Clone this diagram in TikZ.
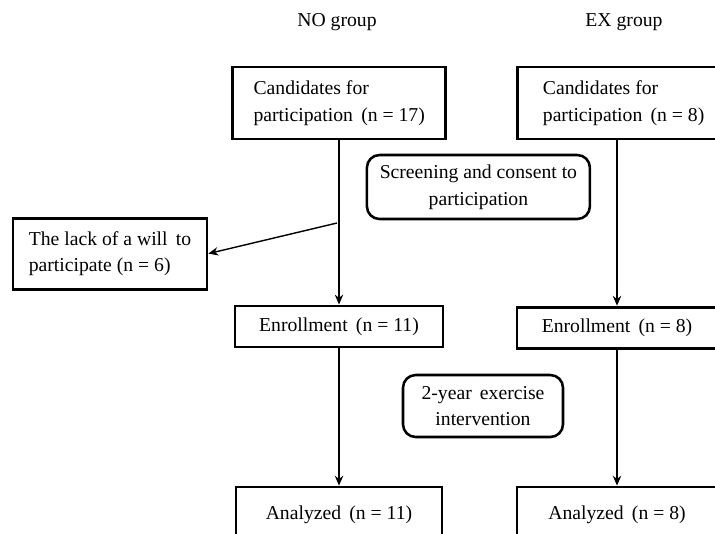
\documentclass[tikz,border=0pt]{standalone}
\usepackage{fontspec}
\setmainfont{Liberation Serif}
\usetikzlibrary{arrows.meta}

\begin{document}
\begin{tikzpicture}
		\useasboundingbox (0,0) rectangle (17.875,-13.325);
		\tikzstyle{every node}+=[font=\fontsize{14}{19}\selectfont,inner sep=0pt]
		\tikzstyle{sqbox}=[draw,line width=2pt,minimum height=1.025cm]
		\tikzstyle{leftbox}=[sqbox,align=left,minimum width=5.325cm,minimum height=1.8cm]
		\tikzstyle{roundbox}=[draw,line width=1.8pt,rounded corners=9pt,align=center]
		\node (nolab) at (8.425,-0.55) {NO group};
		\node (exlab) at (15.6,-0.55) {EX group};
		\node[leftbox] (nocand) at (8.48,-2.575) {Candidates for\\participation\, (n = 17)};
		\node[leftbox] (excand) at (15.59,-2.575) {Candidates for\\participation\, (n = 8)};
		\node[roundbox,minimum width=5.575cm,minimum height=1.6cm] (screen) at (11.96,-4.675) {Screening and consent to\\participation};
		\node[leftbox,minimum width=4.85cm,minimum height=1.775cm] (lack) at (2.75,-6.34) {The lack of a will\, to\\participate (n = 6)};
		\node[sqbox,minimum width=5.2cm] (noenr) at (8.475,-8.16) {Enrollment\, (n = 11)};
		\node[sqbox,minimum width=5.0cm] (exenr) at (15.425,-8.19) {Enrollment\, (n = 8)};
		\node[roundbox,minimum width=4cm,minimum height=1.55cm] (interv) at (12.075,-10.15) {2-year\, exercise\\intervention};
		\node[sqbox,minimum width=5.15cm,minimum height=1.4cm] (noana) at (8.475,-12.875) {Analyzed\, (n = 11)};
		\node[sqbox,minimum width=5.0cm,minimum height=1.4cm] (exana) at (15.425,-12.875) {Analyzed\, (n = 8)};
		\coordinate (split) at (8.425,-5.575);
		\tikzstyle{every path}+=[line width=1pt,-{Stealth[length=7pt,width=6pt]}]
		\draw (noenr.north |- nocand.south) -- (noenr.north);
		\draw (split) -- (lack.east);
		\draw (exenr.north |- excand.south) -- (exenr.north);
		\draw (noenr) -- (noana);
		\draw (exenr) -- (exana);
	\end{tikzpicture}
\end{document}
